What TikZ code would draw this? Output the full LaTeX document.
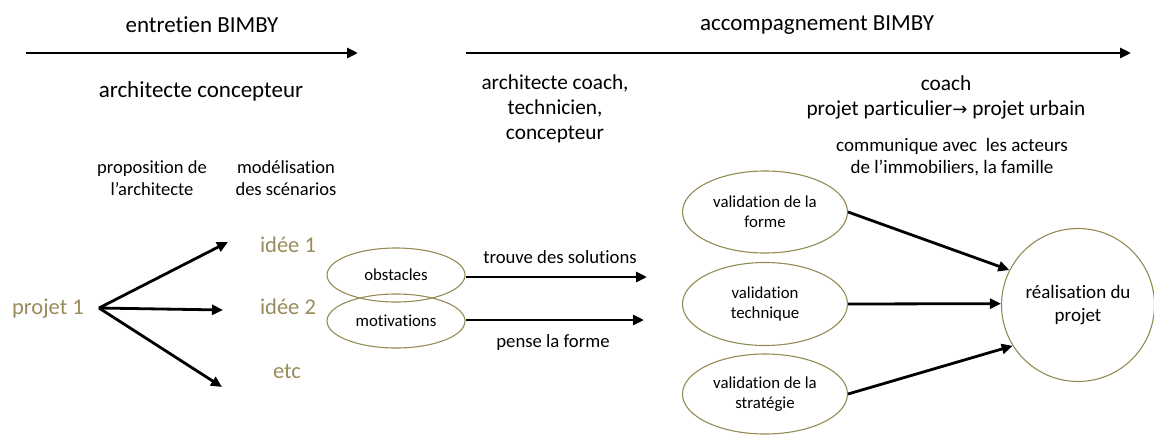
\documentclass[tikz,border=0pt]{standalone}
\usepackage{fontspec}
\setmainfont{Carlito}[Ligatures=NoCommon]
\newfontfamily\djv{DejaVu Sans}
\usetikzlibrary{arrows.meta,shapes.geometric}
\definecolor{olv}{RGB}{152,140,92}
\definecolor{olvline}{RGB}{148,138,84}
\tikzset{
  big/.style={font=\fontsize{23}{25}\selectfont, align=center, inner sep=0pt},
  lbl/.style={font=\fontsize{18.7}{22}\selectfont, align=center, inner sep=0pt},
  role/.style={font=\fontsize{21.3}{25}\selectfont, align=center, inner sep=0pt},
  mid/.style={font=\fontsize{18.5}{21.5}\selectfont, align=center, inner sep=0pt},
  oltext/.style={font=\fontsize{22.5}{24}\selectfont, text=olv, inner sep=0pt},
  oval/.style={ellipse, draw=olvline, line width=1.1pt, inner sep=0pt, font=\fontsize{16.8}{20}\selectfont, align=center},
  arr/.style={line width=2.8pt, -{Triangle[length=11pt,width=10pt]}},
}
\begin{document}
\begin{tikzpicture}[x=1pt,y=-1pt]
\useasboundingbox (0,0) rectangle (1154,434);
% headings
\node[big] (eb) at (202,25) {entretien BIMBY};
\coordinate (a1s) at (26,53);
\coordinate (a1e) at (358,53);
\draw[arr] (a1s) -- (a1e);
\node[big] (ac) at (201,91) {architecte concepteur};

\node[big] (ab) at (817,25) {accompagnement BIMBY};
\coordinate (a2s) at (466,53);
\coordinate (a2e) at (1131,53);
\draw[arr] (a2s) -- (a2e);

\node[role] (coachtech) at (555,109) {architecte coach,\\technicien,\\concepteur};
\node[role] (coach) at (946,97) {coach\\projet particulier{\djv\fontsize{18}{25}\selectfont →} projet urbain};
\node[mid, font=\fontsize{19}{22}\selectfont] (comm) at (952,157) {communique avec \ les acteurs\\de l’immobiliers, la famille};

\node[mid] (prop) at (152,178) {proposition de\\l’architecte};
\node[mid] (mod) at (286,178) {modélisation\\des scénarios};

% left part
\node[oltext] (p1) at (48,309) {projet 1};
\node[oltext] (i1) at (288,245) {idée 1};
\node[oltext] (i2) at (288,307) {idée 2};
\node[oltext] (etc) at (287,371) {etc};
\coordinate (fork) at (99,308);
\coordinate (e1) at (228,242);
\coordinate (e2) at (223,310);
\coordinate (e3) at (222,387);
\draw[arr] (fork) -- (e1);
\draw[arr] (fork) -- (e2);
\draw[arr] (fork) -- (e3);

% middle
\node[oval, minimum width=138pt, minimum height=54pt] (ob) at (396,275) {obstacles};
\node[oval, minimum width=138pt, minimum height=54pt] (mo) at (396,321) {motivations};
\coordinate (obe) at (647,277);
\coordinate (moe) at (644,320);
\draw[arr] (ob.east |- obe) -- (obe);
\draw[arr] (mo.east |- moe) -- (moe);
\node[lbl] (ts) at (560,257) {trouve des solutions};
\node[lbl] (pf) at (553,343) {pense la forme};

% right
\node[oval, minimum width=165pt, minimum height=82pt] (v1) at (765,212) {validation de la\\forme};
\node[oval, minimum width=165pt, minimum height=83pt] (v2) at (765,304) {validation\\technique};
\node[oval, minimum width=165pt, minimum height=80pt] (v3) at (765,394) {validation de la\\stratégie};
\node[circle, draw=olvline, line width=1.1pt, minimum size=153pt, inner sep=0pt, font=\fontsize{19}{23}\selectfont, align=center] (real) at (1078,305) {réalisation du\\projet};
\draw[arr] (v1.east) -- (real.153);
\draw[arr] (v2.east) -- (real.179);
\draw[arr] (v3.east) -- (real.212);
\end{tikzpicture}
\end{document}
